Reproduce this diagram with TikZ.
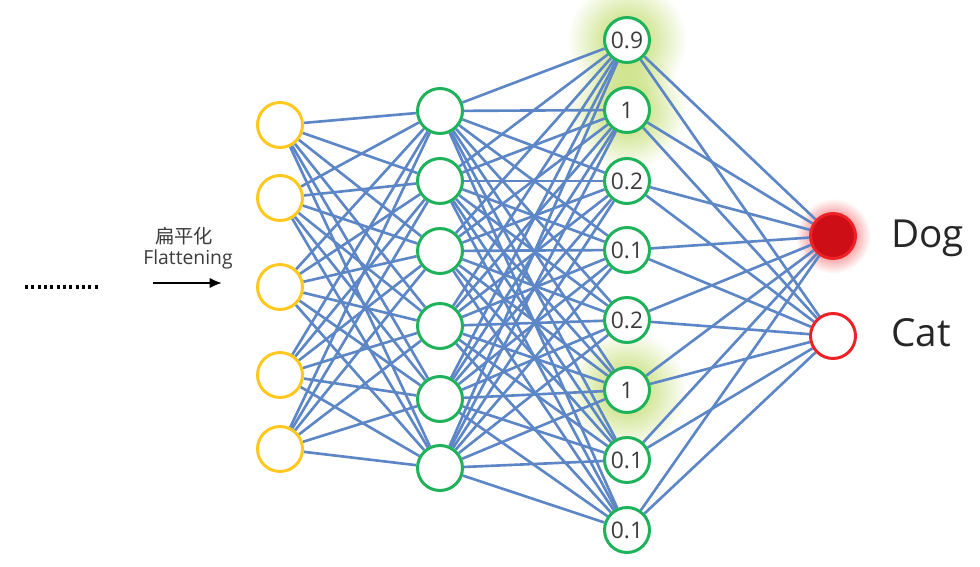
\documentclass[tikz,border=0pt]{standalone}
\usepackage{fontspec}
\setmainfont{Open Sans}
\newfontfamily\cjk{Noto Sans CJK SC}
\usetikzlibrary{arrows.meta,fadings,backgrounds}

\definecolor{inyellow}{RGB}{255,200,30}
\definecolor{hidgreen}{RGB}{30,178,90}
\definecolor{outred}{RGB}{238,34,38}
\definecolor{dogred}{RGB}{205,14,22}
\definecolor{linkblue}{RGB}{92,134,198}
\definecolor{glowgreen}{RGB}{185,215,90}
\definecolor{textgray}{RGB}{60,60,60}

\tikzfading[name=glowfade, inner color=transparent!0, outer color=transparent!100]

\begin{document}
\begin{tikzpicture}[x=0.02cm, y=-0.02cm,
  neuron/.style={circle, draw, line width=1.7pt, fill=white, minimum size=0.9cm, inner sep=0pt,
    text=textgray, font=\fontsize{13}{15}\selectfont},
  inunit/.style={neuron, draw=inyellow},
  hidunit/.style={neuron, draw=hidgreen},
  outunit/.style={neuron, draw=outred},
  link/.style={draw=linkblue, line width=1.5pt},
  glow/.style={fill=glowgreen, path fading=glowfade},
  classlabel/.style={anchor=west, text=black!85, font=\fontsize{22}{26}\selectfont}
]
  \useasboundingbox (0,0) rectangle (980,567);

  % input layer (after flattening)
  \foreach \y [count=\i] in {125,198,287,375,449}
    \node[inunit] (a\i) at (280,\y) {};

  % hidden layer
  \foreach \y [count=\i] in {111,181,251,326,399,468}
    \node[hidunit] (b\i) at (440,\y) {};

  % last hidden layer with values
  \foreach \v/\y [count=\i] in {0.9/40,1/110,0.2/181,0.1/250,0.2/320,1/390,0.1/460,0.1/530}
    \node[hidunit] (c\i) at (627,\y) {\v};

  % outputs
  \node[outunit, fill=dogred] (dog) at (833,236) {};
  \node[outunit] (cat) at (833,336) {};
  \node[classlabel] (doglbl) at (885,238) {Dog};
  \node[classlabel] (catlbl) at (885,333) {Cat};

  \begin{scope}[on background layer]
    \fill[glow] (c1) circle (1.2cm);
    \fill[glow] (c2) circle (1.2cm);
    \fill[glow] (c6) circle (1.2cm);
    \fill[outred, path fading=glowfade] (dog) circle (0.75cm);
    \foreach \i in {1,...,5}
      \foreach \j in {1,...,6}
        \draw[link] (a\i) -- (b\j);
    \foreach \i in {1,...,6}
      \foreach \j in {1,...,8}
        \draw[link] (b\i) -- (c\j);
    \foreach \i in {1,...,8} {
      \draw[link] (c\i) -- (dog);
      \draw[link] (c\i) -- (cat);
    }
  \end{scope}

  % flattening step
  \node[text=textgray, font=\cjk\fontsize{11}{13}\selectfont] (zh) at (184,236) {扁平化};
  \node[text=textgray, font=\fontsize{11}{13}\selectfont] (en) at (188,259) {Flattening};
  \coordinate (arrS) at (153,283);
  \coordinate (arrE) at (222,283);
  \draw[line width=1.3pt, -{Latex[length=7pt,width=6pt]}] (arrS) -- (arrE);
  \coordinate (dotS) at (25,287);
  \coordinate (dotE) at (100,287);
  \draw[line width=1.8pt, dash pattern=on 1.8pt off 1.8pt] (dotS) -- (dotE);
\end{tikzpicture}
\end{document}
